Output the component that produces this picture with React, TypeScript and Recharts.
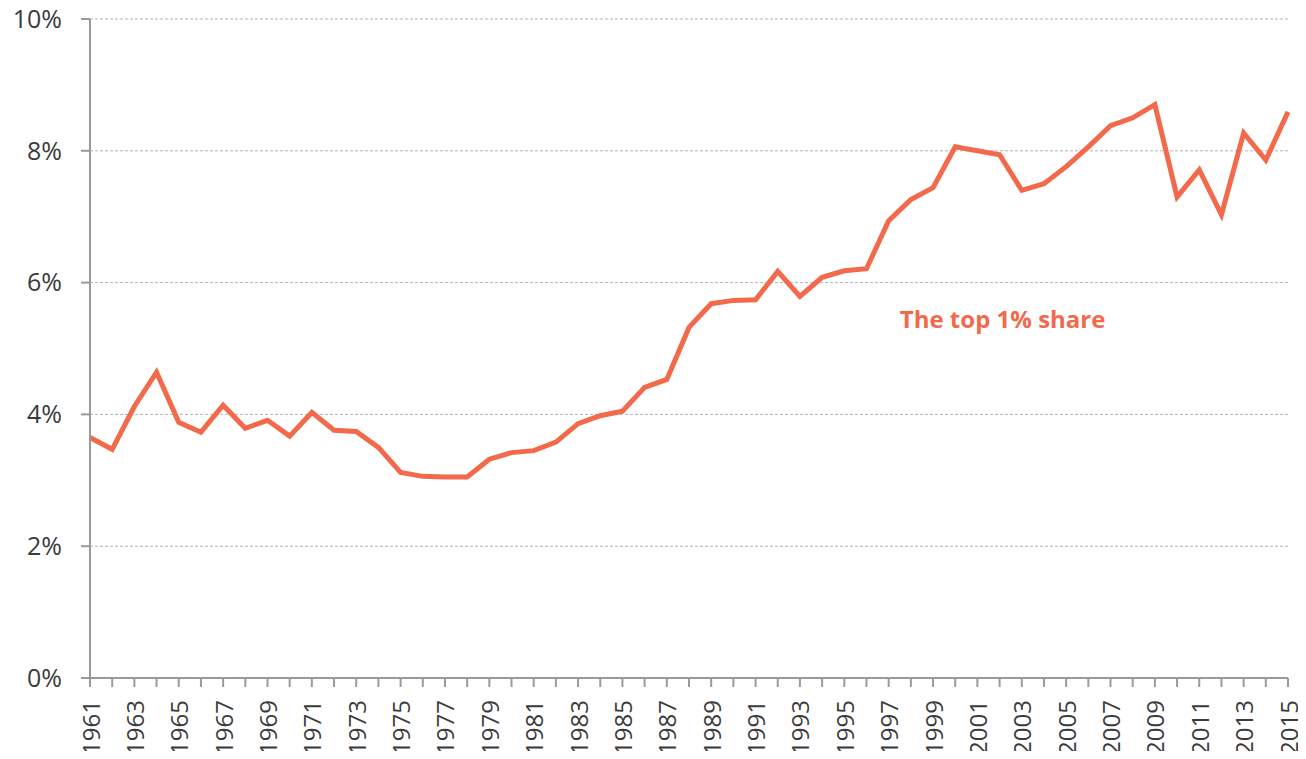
import { CartesianGrid, Line, LineChart, ReferenceDot, XAxis, YAxis } from "recharts";

const YEARS = [
  1961, 1962, 1963, 1964, 1965, 1966, 1967, 1968, 1969, 1970,
  1971, 1972, 1973, 1974, 1975, 1976, 1977, 1978, 1979, 1980,
  1981, 1982, 1983, 1984, 1985, 1986, 1987, 1988, 1989, 1990,
  1991, 1992, 1993, 1994, 1995, 1996, 1997, 1998, 1999, 2000,
  2001, 2002, 2003, 2004, 2005, 2006, 2007, 2008, 2009, 2010,
  2011, 2012, 2013, 2014, 2015,
];

// share of income going to the top 1%, in percent
const TOP1_SHARE = [
  3.65, 3.47, 4.12, 4.64, 3.88, 3.73, 4.14, 3.79, 3.91, 3.67,
  4.03, 3.76, 3.74, 3.5, 3.12, 3.06, 3.05, 3.05, 3.32, 3.42,
  3.45, 3.58, 3.86, 3.98, 4.05, 4.41, 4.53, 5.32, 5.68, 5.73,
  5.74, 6.17, 5.79, 6.08, 6.18, 6.21, 6.94, 7.26, 7.44, 8.06,
  8.0, 7.94, 7.4, 7.5, 7.76, 8.06, 8.38, 8.5, 8.7, 7.3,
  7.71, 7.03, 8.27, 7.86, 8.59,
];

const Y_TICKS = [0, 2, 4, 6, 8, 10];

const LINE_COLOR = "#f2694b";
const TEXT_COLOR = "#3b3b3b";
const AXIS_COLOR = "#9a9a9a";
const FONT = "'Open Sans', sans-serif";

const rows = YEARS.map((year, i) => ({ year, share: TOP1_SHARE[i] }));

function YearTick({ x, y, payload }: any) {
  // only odd years get a label, every year keeps its tick mark
  if (payload.value % 2 === 0) return <g />;
  return (
    <text
      x={x}
      y={y}
      transform={`rotate(-90 ${x} ${y})`}
      textAnchor="end"
      dominantBaseline="central"
      fill={TEXT_COLOR}
      fontSize={24}
      fontFamily={FONT}
    >
      {payload.value}
    </text>
  );
}

function ShareLabel({ viewBox }: any) {
  const cx = viewBox.x + (viewBox.width || 0) / 2 + 3;
  const cy = viewBox.y + (viewBox.height || 0) / 2;
  return (
    <text
      x={cx}
      y={cy}
      textAnchor="middle"
      dominantBaseline="central"
      fill={LINE_COLOR}
      fontSize={24}
      fontWeight={700}
      fontFamily={FONT}
    >
      The top 1% share
    </text>
  );
}

export default function App() {
  return (
    <div style={{ margin: -8, background: "#fff" }}>
      <LineChart width={1306} height={759} data={rows} margin={{ top: 19, right: 18, bottom: 0, left: 0 }}>
        <CartesianGrid vertical={false} stroke="#b3b3b3" strokeDasharray="3 2" />
        <XAxis
          dataKey="year"
          type="category"
          interval={0}
          height={81}
          tick={<YearTick />}
          tickSize={9}
          tickMargin={13}
          stroke={AXIS_COLOR}
          strokeWidth={2}
        />
        <YAxis
          domain={[0, 10]}
          ticks={Y_TICKS}
          width={90}
          tickFormatter={(v) => `${v}%`}
          tickSize={9}
          tickMargin={19}
          stroke={AXIS_COLOR}
          strokeWidth={2}
          tick={{ fill: TEXT_COLOR, fontSize: 25, fontFamily: FONT }}
        />
        <ReferenceDot x={2002} y={5.45} r={0} stroke="none" fill="none" label={<ShareLabel />} />
        <Line
          dataKey="share"
          stroke={LINE_COLOR}
          strokeWidth={5}
          dot={false}
          isAnimationActive={false}
        />
      </LineChart>
    </div>
  );
}
